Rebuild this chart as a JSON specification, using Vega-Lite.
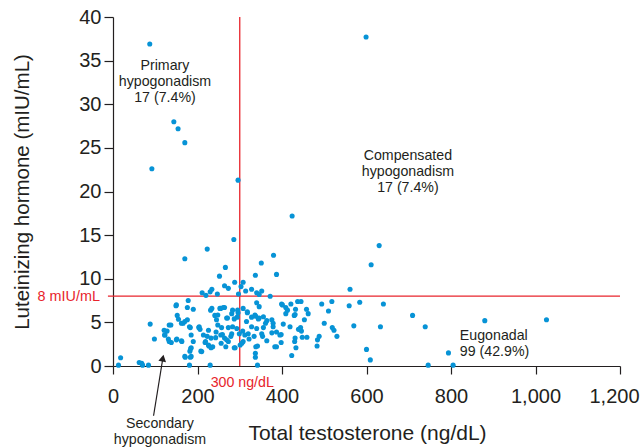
{
  "$schema": "https://vega.github.io/schema/vega-lite/v6.json",
  "width": 507,
  "height": 349,
  "autosize": "none",
  "padding": {"left": 113, "top": 17, "right": 23, "bottom": 82},
  "config": {
    "view": {"stroke": null},
    "font": "Liberation Sans",
    "axis": {"grid": false, "domainColor": "#231f20", "tickColor": "#231f20", "labelColor": "#231f20", "titleColor": "#231f20", "labelFont": "Liberation Sans", "titleFont": "Liberation Sans", "labelFontSize": 20, "titleFontSize": 20.5, "titleFontWeight": "normal", "domainWidth": 1.2, "tickWidth": 1.2, "labelFlush": false, "labelOverlap": false, "labelBound": false}
  },
  "datasets": {
    "pts": [
      {"tt":87,"lh":36.9},{"tt":92,"lh":22.6},{"tt":144,"lh":28.0},{"tt":154,"lh":27.2},{"tt":170,"lh":25.6},{"tt":296,"lh":21.3},
      {"tt":286,"lh":14.5},{"tt":223,"lh":13.4},{"tt":170,"lh":12.3},{"tt":266,"lh":11.3},{"tt":252,"lh":10.3},{"tt":288,"lh":9.6},{"tt":264,"lh":9.2},{"tt":273,"lh":8.9},{"tt":211,"lh":8.4},{"tt":220,"lh":8.1},{"tt":230,"lh":8.5},{"tt":234,"lh":8.8},{"tt":247,"lh":8.25},{"tt":297,"lh":8.25},
      {"tt":424,"lh":17.2},{"tt":599,"lh":37.7},{"tt":630,"lh":13.8},{"tt":611,"lh":11.6},{"tt":561,"lh":8.8},{"tt":380,"lh":12.7},{"tt":351,"lh":11.8},{"tt":387,"lh":10.5},{"tt":337,"lh":10.4},{"tt":308,"lh":9.6},{"tt":303,"lh":9.1},{"tt":314,"lh":8.6},{"tt":328,"lh":8.8},{"tt":340,"lh":8.4},{"tt":352,"lh":8.6},{"tt":346,"lh":8.2},{"tt":372,"lh":8.0},
      {"tt":559,"lh":6.9},{"tt":584,"lh":7.3},{"tt":640,"lh":7.1},{"tt":709,"lh":5.8},{"tt":739,"lh":4.5},{"tt":570,"lh":4.6},{"tt":633,"lh":4.5},{"tt":600,"lh":1.9},{"tt":609,"lh":0.7},{"tt":794,"lh":1.5},{"tt":746,"lh":0.1},{"tt":805,"lh":0.1},{"tt":880,"lh":5.2},{"tt":1026,"lh":5.3},
      {"tt":399,"lh":7.1},{"tt":409,"lh":6.7},{"tt":421,"lh":7.1},{"tt":432,"lh":6.5},{"tt":437,"lh":7.4},{"tt":445,"lh":7.4},{"tt":458,"lh":6.5},{"tt":462,"lh":6.0},{"tt":409,"lh":6.0},{"tt":429,"lh":5.8},{"tt":453,"lh":5.3},{"tt":494,"lh":7.1},{"tt":518,"lh":7.4},{"tt":510,"lh":6.3},{"tt":500,"lh":4.9},{"tt":403,"lh":4.8},{"tt":419,"lh":4.5},{"tt":444,"lh":4.4},{"tt":446,"lh":4.0},{"tt":519,"lh":4.4},{"tt":523,"lh":4.1},{"tt":530,"lh":3.4},{"tt":488,"lh":3.4},{"tt":484,"lh":3.0},{"tt":483,"lh":2.3},{"tt":448,"lh":3.3},{"tt":459,"lh":3.3},{"tt":431,"lh":3.2},{"tt":430,"lh":2.8},{"tt":433,"lh":2.1},{"tt":423,"lh":1.2},{"tt":398,"lh":3.6},{"tt":398,"lh":2.7},{"tt":413,"lh":6.4},{"tt":431,"lh":5.9},{"tt":439,"lh":4.2},{"tt":387,"lh":3.9},{"tt":395,"lh":3.55},{"tt":383,"lh":2.2},
      {"tt":178,"lh":7.5},{"tt":149,"lh":6.9},{"tt":176,"lh":6.7},{"tt":190,"lh":6.5},{"tt":152,"lh":5.8},{"tt":155,"lh":5.35},{"tt":166,"lh":4.9},{"tt":176,"lh":5.3},{"tt":183,"lh":4.4},{"tt":203,"lh":4.4},{"tt":133,"lh":4.7},{"tt":121,"lh":4.1},{"tt":128,"lh":4.0},{"tt":88,"lh":4.8},{"tt":98,"lh":3.1},{"tt":123,"lh":3.55},{"tt":131,"lh":3.1},{"tt":138,"lh":2.7},{"tt":151,"lh":3.1},{"tt":163,"lh":2.8},
      {"tt":234,"lh":6.6},{"tt":241,"lh":5.8},{"tt":255,"lh":6.6},{"tt":264,"lh":6.7},{"tt":283,"lh":6.4},{"tt":269,"lh":5.5},{"tt":294,"lh":5.6},{"tt":296,"lh":6.1},{"tt":308,"lh":6.6},{"tt":318,"lh":6.1},{"tt":340,"lh":7.25},{"tt":346,"lh":6.8},{"tt":336,"lh":5.85},{"tt":346,"lh":5.5},{"tt":364,"lh":5.2},{"tt":376,"lh":5.3},{"tt":379,"lh":4.5},
      {"tt":206,"lh":4.2},{"tt":214,"lh":3.55},{"tt":223,"lh":3.4},{"tt":232,"lh":3.2},{"tt":218,"lh":2.7},{"tt":227,"lh":2.3},{"tt":236,"lh":2.2},{"tt":185,"lh":2.1},{"tt":190,"lh":2.8},{"tt":182,"lh":1.7},{"tt":170,"lh":1.1},{"tt":185,"lh":1.1},{"tt":210,"lh":1.65},
      {"tt":245,"lh":5.3},{"tt":248,"lh":4.7},{"tt":257,"lh":4.4},{"tt":244,"lh":3.9},{"tt":255,"lh":3.55},{"tt":264,"lh":3.2},{"tt":273,"lh":2.8},{"tt":267,"lh":2.2},{"tt":273,"lh":4.4},{"tt":283,"lh":4.5},{"tt":293,"lh":4.3},{"tt":281,"lh":3.7},{"tt":289,"lh":2.1},{"tt":299,"lh":3.7},{"tt":307,"lh":4.0},{"tt":301,"lh":2.4},{"tt":308,"lh":2.8},{"tt":322,"lh":3.1},{"tt":334,"lh":3.4},{"tt":338,"lh":2.2},{"tt":337,"lh":1.45},{"tt":337,"lh":1.0},{"tt":342,"lh":0.1},{"tt":352,"lh":3.7},{"tt":364,"lh":2.9},{"tt":356,"lh":4.4},{"tt":376,"lh":3.8},{"tt":312,"lh":3.55},{"tt":328,"lh":4.5},{"tt":316,"lh":5.1},{"tt":328,"lh":5.6},{"tt":356,"lh":5.65},{"tt":379,"lh":4.9},
      {"tt":13,"lh":0.1},{"tt":18,"lh":0.95},{"tt":62,"lh":0.4},{"tt":70,"lh":0.1},{"tt":84,"lh":0.1},{"tt":181,"lh":0.1},{"tt":230,"lh":0.1},{"tt":68,"lh":0.3},
      {"tt":231,"lh":6.4},{"tt":253,"lh":6.6},{"tt":261,"lh":6.7},{"tt":248,"lh":5.85},{"tt":271,"lh":5.5},{"tt":281,"lh":6.0},{"tt":287,"lh":5.4},{"tt":295,"lh":6.4},{"tt":318,"lh":6.2},{"tt":338,"lh":5.7},{"tt":344,"lh":5.4},{"tt":361,"lh":4.9},{"tt":204,"lh":4.5},{"tt":226,"lh":4.1},{"tt":219,"lh":2.8},{"tt":226,"lh":2.4},{"tt":232,"lh":2.1},{"tt":208,"lh":1.7},{"tt":243,"lh":3.25},{"tt":259,"lh":3.6},{"tt":256,"lh":2.6},{"tt":269,"lh":3.0},{"tt":279,"lh":3.4},{"tt":287,"lh":2.1},{"tt":305,"lh":2.6},{"tt":320,"lh":3.7},{"tt":340,"lh":4.3},{"tt":354,"lh":3.4},{"tt":342,"lh":2.3},{"tt":387,"lh":2.2},{"tt":401,"lh":7.0},
      {"tt":150,"lh":7.0},{"tt":137,"lh":4.7},{"tt":162,"lh":4.9},{"tt":170,"lh":5.1},{"tt":181,"lh":4.5},{"tt":122,"lh":3.55},{"tt":133,"lh":2.8},{"tt":150,"lh":3.0},{"tt":162,"lh":2.9},{"tt":185,"lh":3.55},{"tt":184,"lh":2.0},{"tt":171,"lh":1.0},{"tt":183,"lh":1.0}
    ]
  },
  "layer": [
    {
      "data": {"values": [{"a":300,"b":0,"a2":300,"b2":40},{"a":-12,"b":8,"a2":1200,"b2":8}]},
      "mark": {"type": "rule", "color": "#e8242c", "strokeWidth": 1.3, "clip": false},
      "encoding": {
        "x": {"field": "a", "type": "quantitative", "scale": {"domain": [0, 1200], "nice": false, "zero": false}},
        "y": {"field": "b", "type": "quantitative", "scale": {"domain": [0, 40], "nice": false}},
        "x2": {"field": "a2"},
        "y2": {"field": "b2"}
      }
    },
    {
      "data": {"name": "pts"},
      "mark": {"type": "circle", "size": 26, "color": "#0793d6", "opacity": 1},
      "encoding": {
        "x": {"field": "tt", "type": "quantitative", "axis": {"title": "Total testosterone (ng/dL)", "titleFontSize": 21, "values": [0,200,400,600,800,1000,1200], "format": ",d", "tickSize": 8, "labelPadding": 12, "labelOffset": {"condition": {"test": "datum.value === 1200", "value": -6}, "value": 0}, "titleX": 254, "titleY": 67, "titleBaseline": "middle"}},
        "y": {"field": "lh", "type": "quantitative", "axis": {"title": "Luteinizing hormone (mIU/mL)", "values": [0,5,10,15,20,25,30,35,40], "tickSize": 9, "labelPadding": 3, "titleX": -91, "titleY": 174.5, "titleAngle": -90, "titleBaseline": "middle", "titleAlign": "center"}}
      }
    },
    {
      "data": {"values": [
        {"tt":123,"lh":34.4,"txt":"Primary\nhypogonadism\n17 (7.4%)"},
        {"tt":698,"lh":24.07,"txt":"Compensated\nhypogonadism\n17 (7.4%)"},
        {"tt":111,"lh":-6.65,"txt":"Secondary\nhypogonadism"}
      ]},
      "mark": {"type": "text", "fontSize": 14.2, "lineHeight": 16, "baseline": "middle", "align": "center", "color": "#231f20", "lineBreak": "\n", "clip": false},
      "encoding": {
        "x": {"field": "tt", "type": "quantitative"},
        "y": {"field": "lh", "type": "quantitative"},
        "text": {"field": "txt", "type": "nominal"}
      }
    },
    {
      "data": {"values": [{"tt":821,"lh":3.44,"txt":"Eugonadal\n99 (42.9%)"}]},
      "mark": {"type": "text", "fontSize": 14.2, "lineHeight": 16.5, "baseline": "middle", "align": "left", "color": "#231f20", "lineBreak": "\n", "clip": false},
      "encoding": {
        "x": {"field": "tt", "type": "quantitative"},
        "y": {"field": "lh", "type": "quantitative"},
        "text": {"field": "txt", "type": "nominal"}
      }
    },
    {
      "data": {"values": [{"tt":306,"lh":-1.9,"txt":"300 ng/dL"}]},
      "mark": {"type": "text", "fontSize": 14.2, "baseline": "middle", "align": "center", "color": "#e8242c", "clip": false},
      "encoding": {
        "x": {"field": "tt", "type": "quantitative"},
        "y": {"field": "lh", "type": "quantitative"},
        "text": {"field": "txt", "type": "nominal"}
      }
    },
    {
      "data": {"values": [{"tt":-31,"lh":7.9,"txt":"8 mIU/mL"}]},
      "mark": {"type": "text", "fontSize": 14.4, "baseline": "middle", "align": "right", "color": "#e8242c", "clip": false},
      "encoding": {
        "x": {"field": "tt", "type": "quantitative"},
        "y": {"field": "lh", "type": "quantitative"},
        "text": {"field": "txt", "type": "nominal"}
      }
    },
    {
      "data": {"values": [{"a":96,"b":-5.7,"a2":117,"b2":0.6}]},
      "mark": {"type": "rule", "color": "#231f20", "strokeWidth": 1.2, "clip": false},
      "encoding": {
        "x": {"field": "a", "type": "quantitative"},
        "y": {"field": "b", "type": "quantitative"},
        "x2": {"field": "a2"},
        "y2": {"field": "b2"}
      }
    },
    {
      "data": {"values": [{"a":118,"b":0.9}]},
      "mark": {"type": "point", "shape": "triangle-up", "filled": true, "size": 60, "color": "#231f20", "angle": 11, "opacity": 1, "clip": false},
      "encoding": {
        "x": {"field": "a", "type": "quantitative"},
        "y": {"field": "b", "type": "quantitative"}
      }
    }
  ]
}
